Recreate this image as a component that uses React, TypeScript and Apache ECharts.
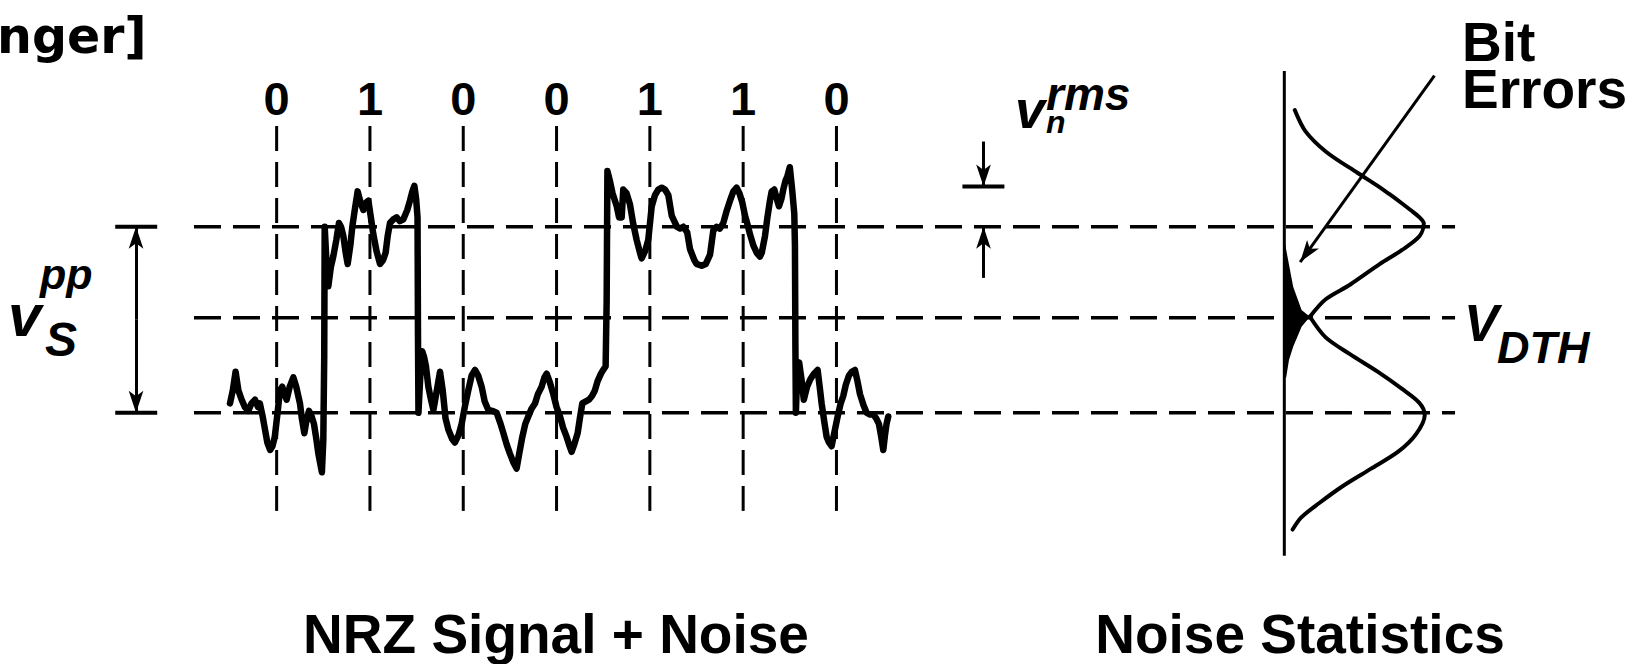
import React, { useEffect, useRef } from "react";
import * as echarts from "echarts";

// ---- data (time in bit periods, voltage normalised: low = 0, high = 1) ----
const bits = ["0", "1", "0", "0", "1", "1", "0"];
const bitCenters = [0.5, 1.5, 2.5, 3.5, 4.5, 5.5, 6.5];
const levels = [0, 0.51, 1]; // logic low, decision threshold V_DTH, logic high
const levelSpan = [-0.386, 13.13];
const gridTimeSpan = [-0.571, 1.542];

const signal: number[][] = [
  [0.0, 0.05], [0.03, 0.12], [0.06, 0.22], [0.09, 0.12], [0.125, 0.07], [0.16, 0.03], [0.196, 0.01],
  [0.23, 0.05], [0.268, 0.07], [0.3, 0.03], [0.32, 0.05], [0.35, -0.02], [0.375, -0.09], [0.4, -0.16],
  [0.43, -0.2], [0.455, -0.18], [0.48, -0.13], [0.51, 0.0], [0.536, 0.12], [0.56, 0.14], [0.585, 0.1],
  [0.607, 0.07], [0.64, 0.14], [0.679, 0.19], [0.71, 0.14], [0.75, 0.05], [0.77, -0.03], [0.797, -0.11],
  [0.82, -0.04], [0.847, 0.01], [0.875, -0.02], [0.9, -0.06], [0.925, -0.14], [0.947, -0.22], [0.97, -0.28],
  [0.985, -0.32], [1.0, -0.15], [1.01, 0.3], [1.015, 1.0], [1.03, 0.85], [1.054, 0.68], [1.08, 0.78],
  [1.107, 0.84], [1.14, 0.93], [1.168, 1.02], [1.19, 1.0], [1.215, 0.95], [1.24, 0.86], [1.261, 0.8],
  [1.29, 0.9], [1.311, 1.0], [1.34, 1.1], [1.368, 1.19], [1.4, 1.13], [1.429, 1.09], [1.46, 1.13],
  [1.483, 1.14], [1.51, 1.05], [1.536, 0.96], [1.57, 0.87], [1.608, 0.8], [1.64, 0.82], [1.668, 0.86],
  [1.69, 0.95], [1.715, 1.02], [1.75, 1.04], [1.786, 1.05], [1.82, 1.03], [1.858, 1.04], [1.9, 1.09],
  [1.929, 1.14], [1.955, 1.19], [1.976, 1.22], [1.995, 1.15], [2.01, 1.05], [2.015, 0.4], [2.02, 0.0],
  [2.04, 0.2], [2.06, 0.33], [2.08, 0.3], [2.1, 0.25], [2.126, 0.14], [2.15, 0.08], [2.18, 0.015],
  [2.21, 0.1], [2.251, 0.22], [2.28, 0.12], [2.31, -0.03], [2.34, -0.09], [2.38, -0.14], [2.41, -0.16],
  [2.45, -0.12], [2.483, -0.06], [2.52, 0.04], [2.554, 0.12], [2.59, 0.2], [2.626, 0.23], [2.66, 0.2],
  [2.697, 0.14], [2.73, 0.06], [2.769, 0.015], [2.81, 0.01], [2.858, 0.0], [2.9, -0.06], [2.93, -0.11],
  [2.965, -0.17], [3.0, -0.22], [3.04, -0.27], [3.072, -0.3], [3.1, -0.22], [3.133, -0.13], [3.165, -0.06],
  [3.197, -0.02], [3.23, 0.02], [3.269, 0.05], [3.3, 0.1], [3.34, 0.14], [3.37, 0.19], [3.394, 0.21],
  [3.43, 0.16], [3.465, 0.1], [3.5, 0.03], [3.537, -0.02], [3.57, -0.08], [3.608, -0.13], [3.64, -0.18],
  [3.661, -0.21], [3.69, -0.17], [3.726, -0.11], [3.75, -0.03], [3.776, 0.05], [3.81, 0.06], [3.847, 0.07],
  [3.88, 0.09], [3.911, 0.12], [3.94, 0.17], [3.976, 0.21], [4.0, 0.23], [4.026, 0.25], [4.037, 0.6],
  [4.045, 1.3], [4.07, 1.25], [4.1, 1.18], [4.145, 1.11], [4.17, 1.05], [4.198, 1.05], [4.215, 1.2],
  [4.25, 1.18], [4.287, 1.12], [4.32, 1.02], [4.358, 0.93], [4.394, 0.86], [4.412, 0.83], [4.45, 0.87],
  [4.483, 0.93], [4.52, 1.11], [4.555, 1.17], [4.59, 1.2], [4.627, 1.21], [4.662, 1.2], [4.698, 1.17],
  [4.734, 1.06], [4.752, 1.04], [4.79, 1.0], [4.823, 0.99], [4.859, 1.0], [4.9, 0.97], [4.93, 0.88],
  [4.977, 0.82], [5.0, 0.8], [5.055, 0.79], [5.1, 0.8], [5.145, 0.85], [5.18, 0.98], [5.216, 1.0],
  [5.25, 0.99], [5.287, 1.02], [5.32, 1.08], [5.359, 1.14], [5.395, 1.19], [5.43, 1.21], [5.46, 1.18],
  [5.491, 1.13], [5.52, 1.06], [5.548, 1.01], [5.573, 0.96], [5.609, 0.9], [5.645, 0.86], [5.68, 0.84],
  [5.699, 0.86], [5.734, 0.95], [5.76, 1.05], [5.787, 1.14], [5.806, 1.19], [5.834, 1.2], [5.86, 1.15],
  [5.884, 1.11], [5.91, 1.15], [5.93, 1.2], [5.955, 1.25], [5.973, 1.27], [6.0, 1.32], [6.025, 1.2],
  [6.048, 1.07], [6.055, 0.9], [6.06, 0.35], [6.065, 0.0], [6.08, 0.22], [6.1, 0.27], [6.125, 0.18],
  [6.15, 0.07], [6.185, 0.14], [6.22, 0.18], [6.26, 0.21], [6.298, 0.23], [6.32, 0.14], [6.341, 0.05],
  [6.37, -0.05], [6.395, -0.13], [6.42, -0.16], [6.448, -0.18], [6.48, -0.1], [6.513, -0.02], [6.545, 0.05],
  [6.573, 0.09], [6.6, 0.15], [6.634, 0.2], [6.665, 0.22], [6.698, 0.23], [6.725, 0.17], [6.752, 0.1],
  [6.79, 0.04], [6.823, 0.0], [6.86, -0.01], [6.895, -0.01], [6.925, -0.03], [6.955, -0.06], [6.98, -0.13],
  [7.002, -0.2], [7.02, -0.12], [7.037, -0.06], [7.055, -0.02],
];

// noise statistics panel: [density offset from the axis, voltage]
const statsAxisT = 11.3;
const statsAxisSpan = [-0.769, 1.837];
const upperPdf: number[][] = [
  [0.112, 1.627], [0.225, 1.514], [0.45, 1.402], [0.787, 1.289], [1.0, 1.22], [1.124, 1.176],
  [1.262, 1.125], [1.349, 1.091], [1.45, 1.05], [1.495, 1.018], [1.45, 0.95], [1.262, 0.875],
  [1.025, 0.8], [0.703, 0.688], [0.443, 0.61], [0.274, 0.516],
];
const lowerPdf: number[][] = [
  [0.274, 0.516], [0.443, 0.405], [0.703, 0.315], [1.0, 0.221], [1.262, 0.128], [1.447, 0.053],
  [1.505, -0.012], [1.412, -0.115], [1.224, -0.208], [0.926, -0.302], [0.628, -0.394], [0.368, -0.488],
  [0.182, -0.563], [0.089, -0.628],
];
const errorTail: number[][] = [
  [0.0, 0.93], [0.03, 0.85], [0.095, 0.677], [0.185, 0.552], [0.274, 0.516], [0.185, 0.462],
  [0.095, 0.355], [0.05, 0.283], [0.02, 0.19], [0.0, 0.19],
];

// annotation arrows [from, to] and ticks
const arrowSegments: number[][][] = [
  [[-1.007, 0.5], [-1.007, 1.0]],
  [[-1.007, 0.5], [-1.007, 0.0]],
  [[8.076, 1.458], [8.076, 1.216]],
  [[8.076, 0.725], [8.076, 1.0]],
  [[12.909, 1.813], [11.47, 0.81]],
];
const tickSegments: number[][][] = [
  [[-1.23, 1.0], [-0.78, 1.0]],
  [[-1.23, 0.0], [-0.78, 0.0]],
  [[7.85, 1.216], [8.3, 1.216]],
];

const X_MIN = -2.465, X_MAX = 15.155, Y_MIN = -1.351, Y_MAX = 2.219;
const FONT = '"Liberation Sans", Arial, sans-serif';

function txt(x: number, y: number, text: string, size: number, opts: any = {}) {
  const align = opts.align || "left";
  const font = `${opts.italic ? "italic " : ""}${opts.weight || "bold"} ${size}px ${opts.family || FONT}`;
  const style: any = {
    text,
    font,
    fill: "#000",
    align,
    verticalAlign: "middle",
    textAlign: align,
    textVerticalAlign: "middle",
  };
  if (opts.lineHeight) style.lineHeight = opts.lineHeight;
  return { type: "text", x, y, silent: true, style };
}

export default function App() {
  const ref = useRef<HTMLDivElement>(null);
  useEffect(() => {
    if (!ref.current) return;
    const chart = echarts.init(ref.current, null, { renderer: "svg" });
    const black = "#000";
    const series: any[] = [];

    levels.forEach((lv, i) => {
      series.push({
        type: "line",
        name: "level" + i,
        data: [[levelSpan[0], lv], [levelSpan[1], lv]],
        showSymbol: false,
        silent: true,
        lineStyle: { color: black, width: 3.5, type: [27, 12] },
      });
    });
    bitCenters.forEach((t, i) => {
      series.push({
        type: "line",
        name: "bit" + i,
        data: [[t, gridTimeSpan[1]], [t, gridTimeSpan[0]]],
        showSymbol: false,
        silent: true,
        lineStyle: { color: black, width: 3, type: [25, 11] },
      });
    });
    series.push({
      type: "line",
      name: "signal",
      data: signal,
      showSymbol: false,
      silent: true,
      lineStyle: { color: black, width: 6.5, join: "round", cap: "round" },
    });
    series.push({
      type: "line",
      name: "statsAxis",
      data: [[statsAxisT, statsAxisSpan[1]], [statsAxisT, statsAxisSpan[0]]],
      showSymbol: false,
      silent: true,
      lineStyle: { color: black, width: 3 },
    });
    [upperPdf, lowerPdf].forEach((pdf, i) => {
      series.push({
        type: "line",
        name: "pdf" + i,
        data: pdf.map((p) => [statsAxisT + p[0], p[1]]),
        showSymbol: false,
        smooth: 0.3,
        silent: true,
        lineStyle: { color: black, width: 4, cap: "round" },
      });
    });
    series.push({
      type: "custom",
      name: "errors",
      data: errorTail.map((p) => [statsAxisT + p[0], p[1]]),
      silent: true,
      renderItem: (params: any, api: any) => {
        if (params.dataIndex !== 0) return null;
        const pts = errorTail.map((p) => api.coord([statsAxisT + p[0], p[1]]));
        return { type: "polygon", shape: { points: pts, smooth: 0 }, style: { fill: black } };
      },
    });
    tickSegments.forEach((seg, i) => {
      series.push({
        type: "line",
        name: "tick" + i,
        data: seg,
        showSymbol: false,
        silent: true,
        lineStyle: { color: black, width: 4 },
      });
    });
    series.push({
      type: "line",
      name: "arrows",
      data: [],
      silent: true,
      markLine: {
        silent: true,
        symbol: ["none", "arrow"],
        symbolSize: [11, 22],
        label: { show: false },
        lineStyle: { color: black, width: 3, type: "solid" },
        data: arrowSegments.map((s) => [{ coord: s[0] }, { coord: s[1] }]),
      },
    });
    series.push({
      type: "scatter",
      name: "bits",
      data: bitCenters.map((t, i) => ({ value: [t, 1.689], name: bits[i] })),
      symbolSize: 0,
      silent: true,
      itemStyle: { opacity: 1, color: black },
      label: {
        show: true,
        position: "inside",
        formatter: (p: any) => p.name,
        fontFamily: FONT,
        fontWeight: "bold",
        fontSize: 47,
        color: black,
        opacity: 1,
        textBorderWidth: 0,
      },
    });

    chart.setOption({
      animation: false,
      backgroundColor: "#fff",
      grid: { left: 0, right: 0, top: 0, bottom: 0, containLabel: false },
      xAxis: { type: "value", min: X_MIN, max: X_MAX, show: false },
      yAxis: { type: "value", min: Y_MIN, max: Y_MAX, show: false },
      series,
      graphic: [
        txt(-3, 36.5, "nger]", 49, { family: '"DejaVu Sans", Verdana, sans-serif' }),
        txt(556, 634, "NRZ Signal + Noise", 55, { align: "center" }),
        txt(1300, 634, "Noise Statistics", 55, { align: "center" }),
        txt(1462, 65.5, "Bit\nErrors", 55, { lineHeight: 47 }),
        txt(1464, 323, "V", 52, { italic: true }),
        txt(1497, 347, "DTH", 45, { italic: true }),
        txt(8, 315, "v", 60, { italic: true }),
        txt(40, 274, "pp", 43, { italic: true }),
        txt(45, 339, "S", 48, { italic: true }),
        txt(1015, 109, "v", 54, { italic: true }),
        txt(1046, 94, "rms", 46, { italic: true }),
        txt(1046, 122, "n", 32, { italic: true }),
      ],
    });
    return () => chart.dispose();
  }, []);
  return (
    <div
      ref={ref}
      style={{ position: "absolute", left: 0, top: 0, width: 1644, height: 664, background: "#fff" }}
    />
  );
}
